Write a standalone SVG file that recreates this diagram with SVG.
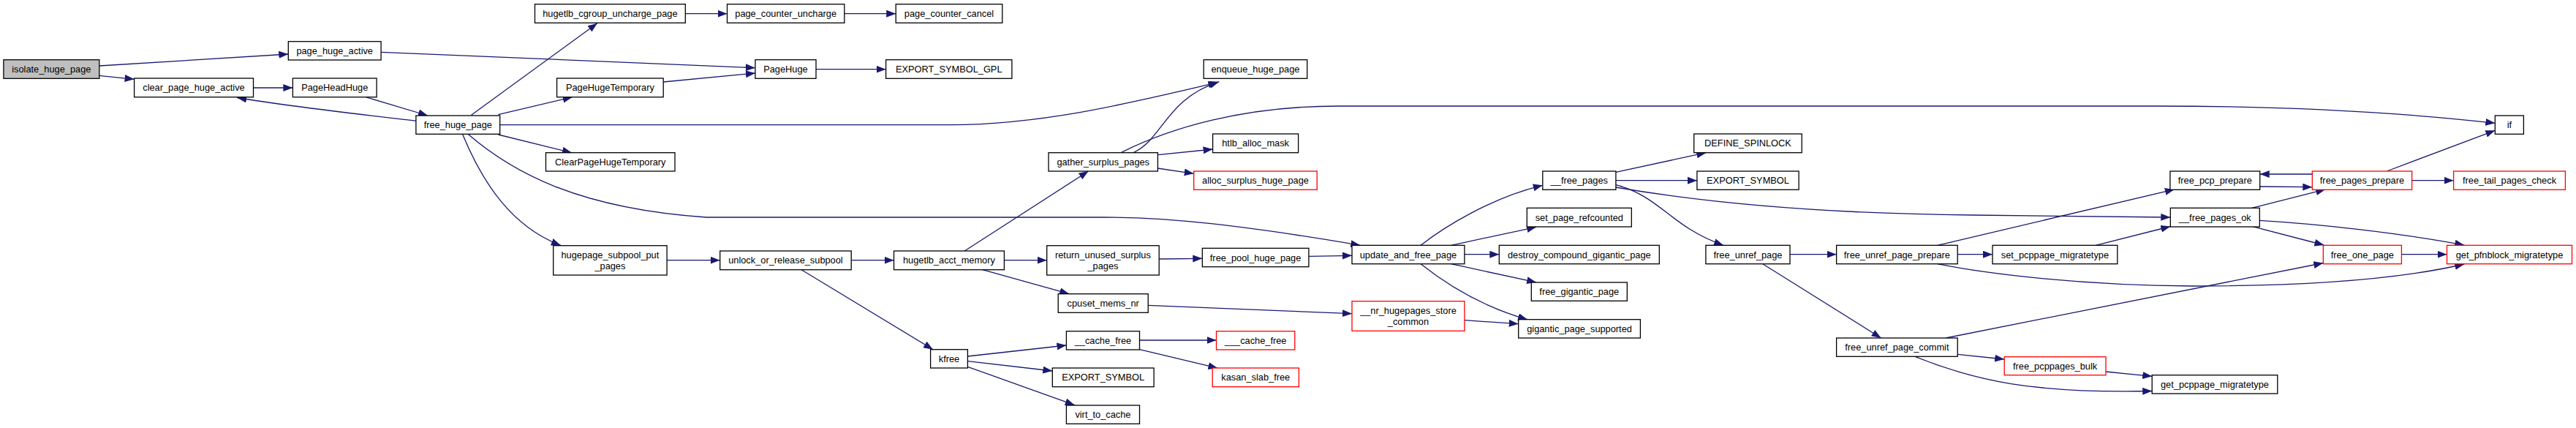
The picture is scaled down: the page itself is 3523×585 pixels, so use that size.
<svg xmlns="http://www.w3.org/2000/svg" width="3523" height="585" viewBox="0 0 3523 585">
<style>
.node rect{fill:#ffffff;stroke:#000000;stroke-width:1.3}
.node.root rect{fill:#bfbfbf}
.node.red rect{stroke:#ff0000}
.node text{font-family:"Liberation Sans",Arial,Helvetica,sans-serif;font-size:12.8px;text-anchor:middle;fill:#000000}
#edges path{fill:none;stroke:#191970;stroke-width:1.3;marker-end:url(#arr)}
</style>
<defs>
<marker id="arr" markerUnits="userSpaceOnUse" markerWidth="14" markerHeight="11" refX="13" refY="5" orient="auto"><path d="M0,0 L13,5 L0,10 z" fill="#191970"/></marker>
</defs>
<rect width="3523" height="585" fill="#ffffff"/>
<g id="edges">
<path d="M135.8,90 L394.3,74"/>
<path d="M135.8,103.3 L183.6,108.3"/>
<path d="M521.1,71.3 L1032.9,92.7"/>
<path d="M346.5,120 L400.4,120"/>
<path d="M500.4,132.7 L585,158"/>
<path d="M569,165.3 C480,155 400,146 324.3,133.5"/>
<path d="M644.6,157.3 L816.9,31.7"/>
<path d="M681.4,156.7 L782.7,132.7"/>
<path d="M681.4,184 L781.9,208.7"/>
<path d="M632.5,183.3 C660,250 700,310 766.9,335.3"/>
<path d="M640,183.3 C700,235 790,285 966,297 L1510,297 C1600,297 1700,308 1860.3,335.3"/>
<path d="M683.7,170.7 L1300,170.7 C1420,170 1530,145 1665.4,112.7"/>
<path d="M1550.6,208.3 C1590,190 1595,135 1667.3,111.7"/>
<path d="M1533.7,208.3 C1600,175 1700,145 1830,145 L2950,145 C3100,145 3250,150 3412.3,168.3"/>
<path d="M907.2,112 L1032.9,100"/>
<path d="M937.3,18.7 L994.5,18.7"/>
<path d="M1154.8,18.7 L1225.2,18.7"/>
<path d="M1116,94.7 L1211.6,94.7"/>
<path d="M912.1,355.7 L984.7,355.7"/>
<path d="M1164.2,355.7 L1222.5,355.7"/>
<path d="M1096.1,368.7 L1276,477.7"/>
<path d="M1319.2,343 L1488.5,234"/>
<path d="M1373.4,355.7 L1431.7,355.7"/>
<path d="M1343.7,368.7 L1462.2,401.7"/>
<path d="M1585.2,354 L1644.3,353.3"/>
<path d="M1789.9,350.3 L1849,349.3"/>
<path d="M1570.2,417.3 L1849,428.7"/>
<path d="M2002.9,437.7 L2076.7,442.7"/>
<path d="M1984.5,335.3 L2101.1,310.3"/>
<path d="M2002.9,347.7 L2050.3,347.7"/>
<path d="M1984.5,360.7 L2101.1,385.9"/>
<path d="M1943.1,360.7 C1980,390 2030,420 2089,436.7"/>
<path d="M1943.1,335.3 C1975,310 2040,270 2109.8,253.3"/>
<path d="M1583.4,211.7 L1658.6,204"/>
<path d="M1583.4,230 L1632.7,237.3"/>
<path d="M1323.4,487 L1458.4,472"/>
<path d="M1323.4,493.7 L1439.3,507"/>
<path d="M1323.4,501.3 L1469.7,553.7"/>
<path d="M1558.5,465 L1663.5,465"/>
<path d="M1558.5,477.7 L1665.4,503.2"/>
<path d="M2209.9,235.3 L2333.3,208.7"/>
<path d="M2209.9,246.7 L2320.9,246.7"/>
<path d="M2209.9,252.7 C2270,268 2285,310 2357,335.3"/>
<path d="M2209.9,256 C2320,275 2480,292 2700,294 L2968.3,297"/>
<path d="M2448,347.7 L2511.6,347.7"/>
<path d="M2410.8,360.7 L2572.6,462"/>
<path d="M2677.2,347.7 L2725,347.7"/>
<path d="M2649.7,335.3 L2973.8,258.9"/>
<path d="M2649.7,360.7 C2720,375 2850,390 3000,391 C3150,391 3280,382 3370.2,361"/>
<path d="M2866.1,335.3 L2968.3,309.5"/>
<path d="M2661,462 L3177.3,359.5"/>
<path d="M2677.2,484.3 L2741.2,491"/>
<path d="M2619.6,487.7 C2700,520 2780,538 2943.2,534.5"/>
<path d="M2880,508 L2943.2,514.3"/>
<path d="M3090.7,255 L3162.3,255.7"/>
<path d="M3162.3,238 L3090.7,238"/>
<path d="M3079.7,284.3 L3180.2,258.9"/>
<path d="M3264.3,234 L3412.3,178.3"/>
<path d="M3298.6,246.7 L3355.6,246.7"/>
<path d="M3090.3,301.3 C3170,306 3280,318 3370.2,335"/>
<path d="M3079.7,309.3 L3178.4,335"/>
<path d="M3284.4,347.7 L3346.5,347.7"/>
</g>
<g id="n_isolate_huge_page" class="node root"><rect x="4.9" y="81.7" width="130.9" height="25.6"/><text x="70.35" y="99">isolate_huge_page</text></g>
<g id="n_page_huge_active" class="node"><rect x="394.3" y="56.7" width="126.8" height="25.3"/><text x="457.7" y="73.85">page_huge_active</text></g>
<g id="n_clear_page_huge_active" class="node"><rect x="183.6" y="107" width="162.9" height="25.7"/><text x="265" y="124.35">clear_page_huge_active</text></g>
<g id="n_PageHeadHuge" class="node"><rect x="400.4" y="107" width="114.7" height="25.7"/><text x="457.75" y="124.35">PageHeadHuge</text></g>
<g id="n_free_huge_page" class="node"><rect x="568.9" y="158" width="114.8" height="25.3"/><text x="626.3" y="175.15">free_huge_page</text></g>
<g id="n_hugetlb_cgroup_uncharge_page" class="node"><rect x="731.5" y="5.7" width="205.8" height="25.6"/><text x="834.4" y="23">hugetlb_cgroup_uncharge_page</text></g>
<g id="n_page_counter_uncharge" class="node"><rect x="994.5" y="5.7" width="160.3" height="25.6"/><text x="1074.65" y="23">page_counter_uncharge</text></g>
<g id="n_PageHuge" class="node"><rect x="1032.9" y="81.7" width="83.1" height="25.6"/><text x="1074.45" y="99">PageHuge</text></g>
<g id="n_PageHugeTemporary" class="node"><rect x="761.6" y="107" width="145.6" height="25.7"/><text x="834.4" y="124.35">PageHugeTemporary</text></g>
<g id="n_ClearPageHugeTemporary" class="node"><rect x="746.5" y="208.7" width="176.5" height="25.3"/><text x="834.75" y="225.85">ClearPageHugeTemporary</text></g>
<g id="n_hugepage_subpool_put_pages" class="node"><rect x="756.7" y="335.7" width="155.4" height="40.3"/><text x="834.4" y="352.5">hugepage_subpool_put</text><text x="834.4" y="367.5">_pages</text></g>
<g id="n_unlock_or_release_subpool" class="node"><rect x="984.7" y="343" width="179.5" height="25.7"/><text x="1074.45" y="360.35">unlock_or_release_subpool</text></g>
<g id="n_page_counter_cancel" class="node"><rect x="1225.2" y="5.7" width="145.6" height="25.6"/><text x="1298" y="23">page_counter_cancel</text></g>
<g id="n_EXPORT_SYMBOL_GPL" class="node"><rect x="1211.6" y="81.7" width="172.3" height="25.6"/><text x="1297.75" y="99">EXPORT_SYMBOL_GPL</text></g>
<g id="n_hugetlb_acct_memory" class="node"><rect x="1222.5" y="343" width="150.9" height="25.7"/><text x="1297.95" y="360.35">hugetlb_acct_memory</text></g>
<g id="n_kfree" class="node"><rect x="1272.6" y="477.7" width="50.8" height="25.3"/><text x="1298" y="494.85">kfree</text></g>
<g id="n_gather_surplus_pages" class="node"><rect x="1434" y="208.7" width="149.4" height="25.3"/><text x="1508.7" y="225.85">gather_surplus_pages</text></g>
<g id="n_return_unused_surplus_pages" class="node"><rect x="1431.7" y="335.7" width="153.5" height="40.3"/><text x="1508.45" y="352.5">return_unused_surplus</text><text x="1508.45" y="367.5">_pages</text></g>
<g id="n_cpuset_mems_nr" class="node"><rect x="1447.2" y="401.7" width="123" height="25.6"/><text x="1508.7" y="419">cpuset_mems_nr</text></g>
<g id="n___cache_free" class="node"><rect x="1458.4" y="452.7" width="100.1" height="25.3"/><text x="1508.45" y="469.85">__cache_free</text></g>
<g id="n_EXPORT_SYMBOL_a" class="node"><rect x="1439.3" y="503" width="138.8" height="25.7"/><text x="1508.7" y="520.35">EXPORT_SYMBOL</text></g>
<g id="n_virt_to_cache" class="node"><rect x="1458.4" y="554" width="100.1" height="25.3"/><text x="1508.45" y="571.15">virt_to_cache</text></g>
<g id="n_enqueue_huge_page" class="node"><rect x="1646.2" y="81.7" width="141.5" height="25.6"/><text x="1716.95" y="99">enqueue_huge_page</text></g>
<g id="n_htlb_alloc_mask" class="node"><rect x="1658.6" y="183" width="117" height="25.7"/><text x="1717.1" y="200.35">htlb_alloc_mask</text></g>
<g id="n_alloc_surplus_huge_page" class="node red"><rect x="1632.7" y="234" width="168.5" height="25.3"/><text x="1716.95" y="251.15">alloc_surplus_huge_page</text></g>
<g id="n_free_pool_huge_page" class="node"><rect x="1644.3" y="339.3" width="145.6" height="25.4"/><text x="1717.1" y="356.5">free_pool_huge_page</text></g>
<g id="n____cache_free" class="node red"><rect x="1663.5" y="452.7" width="107.3" height="25.3"/><text x="1717.15" y="469.85">___cache_free</text></g>
<g id="n_kasan_slab_free" class="node red"><rect x="1658.2" y="503" width="118.2" height="25.7"/><text x="1717.3" y="520.35">kasan_slab_free</text></g>
<g id="n_update_and_free_page" class="node"><rect x="1849" y="335.3" width="153.9" height="25.4"/><text x="1925.95" y="352.5">update_and_free_page</text></g>
<g id="n___nr_hugepages_store_common" class="node red"><rect x="1849" y="411.7" width="153.9" height="40.6"/><text x="1925.95" y="428.7">__nr_hugepages_store</text><text x="1925.95" y="443.7">_common</text></g>
<g id="n___free_pages" class="node"><rect x="2109.8" y="234" width="100.1" height="25.3"/><text x="2159.85" y="251.15">__free_pages</text></g>
<g id="n_set_page_refcounted" class="node"><rect x="2088.3" y="284.3" width="143" height="25.7"/><text x="2159.8" y="301.65">set_page_refcounted</text></g>
<g id="n_destroy_compound_gigantic_page" class="node"><rect x="2050.3" y="335.3" width="219" height="25.4"/><text x="2159.8" y="352.5">destroy_compound_gigantic_page</text></g>
<g id="n_free_gigantic_page" class="node"><rect x="2094.3" y="386" width="131" height="25.3"/><text x="2159.8" y="403.15">free_gigantic_page</text></g>
<g id="n_gigantic_page_supported" class="node"><rect x="2076.7" y="436.7" width="166.7" height="25.3"/><text x="2160.05" y="453.85">gigantic_page_supported</text></g>
<g id="n_DEFINE_SPINLOCK" class="node"><rect x="2316.7" y="183" width="147.5" height="25.7"/><text x="2390.45" y="200.35">DEFINE_SPINLOCK</text></g>
<g id="n_EXPORT_SYMBOL_b" class="node"><rect x="2320.9" y="234" width="139.2" height="25.3"/><text x="2390.5" y="251.15">EXPORT_SYMBOL</text></g>
<g id="n_free_unref_page" class="node"><rect x="2332.9" y="335.3" width="115.1" height="25.4"/><text x="2390.45" y="352.5">free_unref_page</text></g>
<g id="n_free_unref_page_prepare" class="node"><rect x="2511.6" y="335.3" width="165.6" height="25.4"/><text x="2594.4" y="352.5">free_unref_page_prepare</text></g>
<g id="n_free_unref_page_commit" class="node"><rect x="2511.6" y="462" width="165.6" height="25.3"/><text x="2594.4" y="479.15">free_unref_page_commit</text></g>
<g id="n_set_pcppage_migratetype" class="node"><rect x="2725" y="335.3" width="170.8" height="25.4"/><text x="2810.4" y="352.5">set_pcppage_migratetype</text></g>
<g id="n_free_pcppages_bulk" class="node red"><rect x="2741.2" y="487.7" width="138.8" height="25"/><text x="2810.6" y="504.7">free_pcppages_bulk</text></g>
<g id="n_get_pcppage_migratetype" class="node"><rect x="2943.2" y="512.7" width="171.6" height="25.3"/><text x="3029" y="529.85">get_pcppage_migratetype</text></g>
<g id="n_free_pcp_prepare" class="node"><rect x="2967.9" y="234" width="122.8" height="25.3"/><text x="3029.3" y="251.15">free_pcp_prepare</text></g>
<g id="n___free_pages_ok" class="node"><rect x="2968.3" y="284.3" width="122" height="25.7"/><text x="3029.3" y="301.65">__free_pages_ok</text></g>
<g id="n_free_pages_prepare" class="node red"><rect x="3162.3" y="234" width="136.3" height="25.3"/><text x="3230.45" y="251.15">free_pages_prepare</text></g>
<g id="n_free_one_page" class="node red"><rect x="3177.3" y="335.3" width="107.1" height="25.4"/><text x="3230.85" y="352.5">free_one_page</text></g>
<g id="n_if" class="node"><rect x="3412.3" y="158" width="39.1" height="25.3"/><text x="3431.85" y="175.15">if</text></g>
<g id="n_free_tail_pages_check" class="node red"><rect x="3355.6" y="234" width="152.8" height="25.3"/><text x="3432" y="251.15">free_tail_pages_check</text></g>
<g id="n_get_pfnblock_migratetype" class="node red"><rect x="3346.5" y="335.3" width="171" height="25.4"/><text x="3432" y="352.5">get_pfnblock_migratetype</text></g>
</svg>
